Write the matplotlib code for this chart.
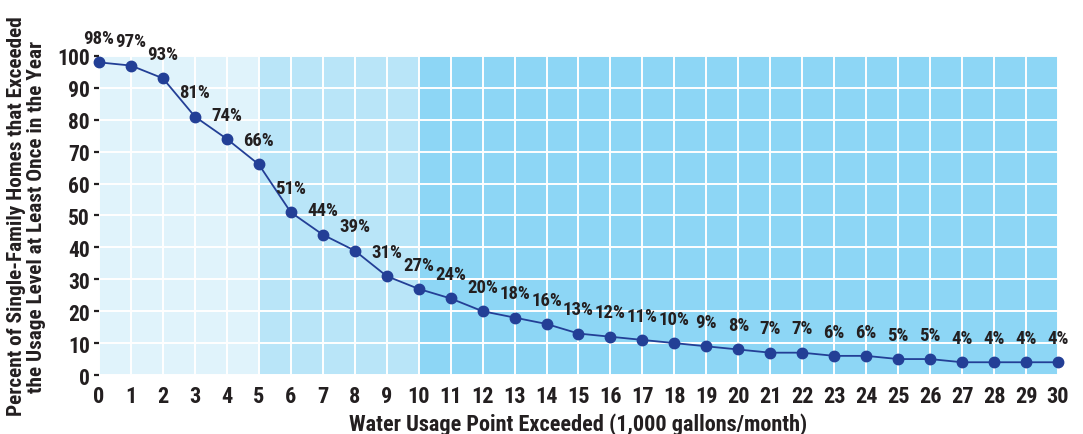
import numpy as np
import matplotlib.pyplot as plt

plt.rcParams['font.family'] = ['Roboto Condensed', 'DejaVu Sans']
plt.rcParams['font.weight'] = 'bold'

usage = list(range(0, 31))
pct = [98, 97, 93, 81, 74, 66, 51, 44, 39, 31, 27, 24, 20, 18, 16, 13,
       12, 11, 10, 9, 8, 7, 7, 6, 6, 5, 5, 4, 4, 4, 4]

# shaded ranges: (start, end, colour)
bands = [(0, 5, '#e0f3fb'), (5, 10, '#b9e5f8'), (10, 30, '#8dd6f5')]

text_col = '#231f20'
line_col = '#233f96'

fig = plt.figure(figsize=(10.83, 4.35), dpi=100)
ax = fig.add_axes([0.0914, 0.1356, 0.8855, 0.7334])

for x0, x1, c in bands:
    ax.axvspan(x0, x1, color=c, lw=0, zorder=0)

ax.set_xlim(0, 30)
ax.set_ylim(0, 100)
ax.set_xticks(usage)
ax.set_yticks(np.arange(0, 101, 10))
ax.grid(True, color='white', lw=1.4, zorder=1)
ax.set_axisbelow(True)
for s in ax.spines.values():
    s.set_visible(False)

ax.plot(usage, pct, color=line_col, lw=1.3, marker='o', ms=7.5,
        zorder=3, clip_on=False)

for x, y in zip(usage, pct):
    ax.annotate(f'{y}%', (x, y), xytext=(0, 17.5), textcoords='offset points',
                ha='center', va='center', fontsize=13.5, color=text_col,
                fontweight='bold', annotation_clip=False)

ax.tick_params(axis='x', length=0, pad=7, labelsize=16, labelcolor=text_col)
ax.tick_params(axis='y', length=3.5, width=1.6, color=text_col, pad=3,
               labelsize=15.5, labelcolor=text_col)

ax.set_xlabel('Water Usage Point Exceeded (1,000 gallons/month)',
              fontsize=16, color=text_col, fontweight='bold', labelpad=4)
ax.set_ylabel('Percent of Single-Family Homes that Exceeded\n'
              'the Usage Level at Least Once in the Year',
              fontsize=15.3, color=text_col, fontweight='bold',
              labelpad=8, linespacing=1.1)

fig.savefig('out.png', dpi=100)
